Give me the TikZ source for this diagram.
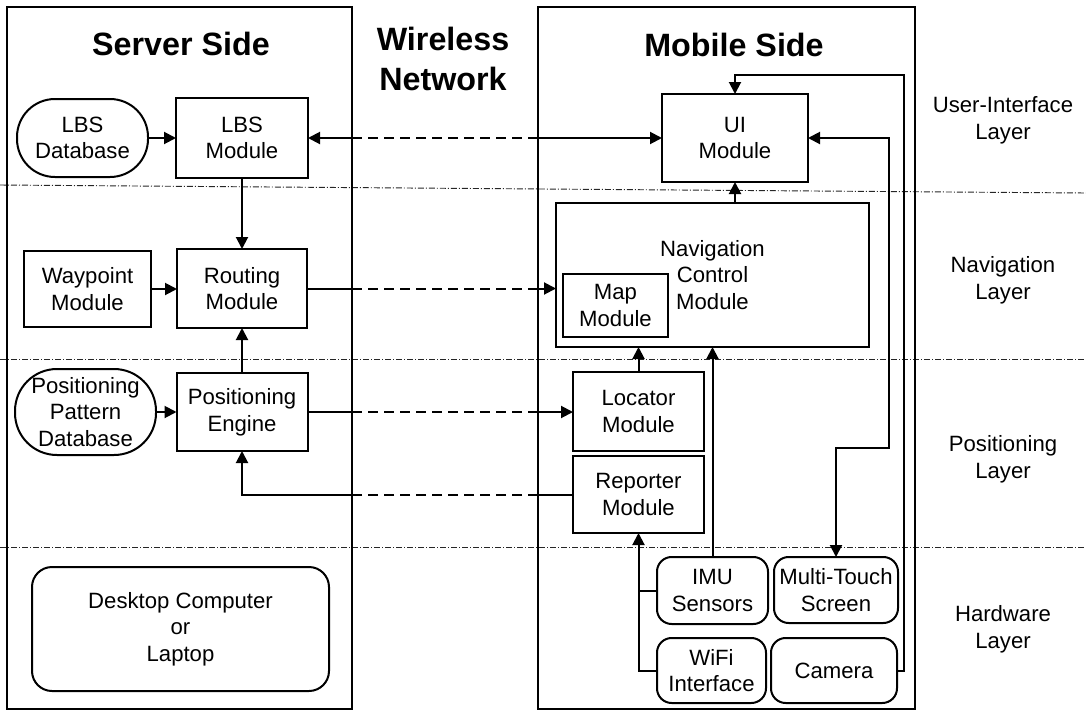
\documentclass[tikz,border=0pt]{standalone}
\usepackage{fontspec}
\setmainfont{Liberation Sans}
\usetikzlibrary{arrows.meta}
\newcommand\bodyfont{\fontsize{16.6}{20}\selectfont}
\newcommand\titlefont{\fontsize{24.2}{30}\selectfont\bfseries}
\begin{document}
\begin{tikzpicture}[x=0.75pt,y=-0.75pt,
  panel/.style={draw, line width=1.1pt, inner sep=0pt, outer sep=0pt},
  box/.style={draw, line width=1.5pt, inner sep=0pt, outer sep=0pt, align=center, font=\bodyfont},
  sz/.style 2 args={minimum width=#1, minimum height=#2},
  rbox/.style={box, rounded corners=11pt},
  title/.style={inner sep=0pt, align=center, font=\titlefont},
  lbl/.style={inner sep=0pt, align=center, font=\bodyfont},
  arr/.style={line width=1.5pt, -{Triangle[length=9pt,width=9pt]}},
  arrb/.style={line width=1.5pt, {Triangle[length=9pt,width=9pt]}-{Triangle[length=9pt,width=9pt]}},
  ln/.style={line width=1.5pt},
  wl/.style={line width=1.5pt, dash pattern=on 7.5pt off 4.5pt},
  layer/.style={line width=0.7pt, black!85, dash pattern=on 4.5pt off 1.5pt on 0.75pt off 1.5pt}
]
\useasboundingbox (0,0) rectangle (1086,711);

% layer separators
\draw[layer] (0,185) -- (1086,193);
\draw[layer] (0,359) -- (1086,359);
\draw[layer] (0,547) -- (1086,547);

% panels
\node[panel, sz={258.75pt}{526.5pt}] (srv) at (179.5,358) {};
\node[panel, sz={282.75pt}{526.5pt}] (mob) at (726.5,358) {};

% titles
\node[title] (tsrv) at (181,44) {Server Side};
\node[title] (twl) at (443,58.5) {Wireless\\Network};
\node[title] (tmob) at (734,45) {Mobile Side};

% layer labels
\node[lbl] (l1) at (1003,120) {User-Interface\\Layer};
\node[lbl] (l2) at (1003,280) {Navigation\\Layer};
\node[lbl] (l3) at (1003,459) {Positioning\\Layer};
\node[lbl] (l4) at (1003,629) {Hardware\\Layer};

% server side
\node[box, rounded corners=28.5pt, sz={98.25pt}{58.5pt}] (lbsdb) at (82.5,138) {LBS\\Database};
\node[box, sz={99pt}{60pt}] (lbs) at (242,138) {LBS\\Module};
\node[box, sz={95.25pt}{57pt}] (way) at (87.5,289) {Waypoint\\Module};
\node[box, sz={97.5pt}{59.25pt}] (rout) at (242,288.5) {Routing\\Module};
\node[box, rounded corners=31.5pt, sz={105.75pt}{64.5pt}] (ppdb) at (85.5,412) {Positioning\\Pattern\\Database};
\node[box, sz={98.25pt}{58.5pt}] (eng) at (242,412) {Positioning\\Engine};
\node[box, rounded corners=15pt, sz={222.75pt}{93pt}] (desk) at (180.5,629) {Desktop Computer\\or\\Laptop};

% mobile side
\node[box, sz={109.5pt}{66pt}] (ui) at (735,138) {UI\\Module};
\node[box, sz={234.75pt}{108pt}] (nav) at (712.5,275) {Navigation\\Control\\Module};
\node[box, sz={78.75pt}{47.25pt}] (map) at (615.5,305.5) {Map\\Module};
\node[box, sz={98.25pt}{59.25pt}] (loc) at (638.5,411.5) {Locator\\Module};
\node[box, sz={98.25pt}{57.75pt}] (rep) at (638.5,494.5) {Reporter\\Module};
\node[rbox, sz={83.25pt}{50.25pt}] (imu) at (712.5,590.5) {IMU\\Sensors};
\node[rbox, sz={93pt}{49.5pt}] (mt) at (836,590) {Multi-Touch\\Screen};
\node[rbox, sz={81.75pt}{48.75pt}] (wifi) at (711.5,670.5) {WiFi\\Interface};
\node[rbox, sz={94.5pt}{48.75pt}] (cam) at (834,670.5) {Camera};

\coordinate (cup) at (904,75);
\coordinate (tch) at (889,448);

% server-side connectors
\draw[arr] (lbsdb.east) -- (lbs.west);
\draw[arr] (lbs.south) -- (rout.north);
\draw[arr] (way.east) -- (way.east -| rout.west);
\draw[arr] (eng.north) -- (rout.south);
\draw[arr] (ppdb.east) -- (ppdb.east -| eng.west);

% wireless connectors
\draw[arr] (lbs.east -| srv.east) -- (lbs.east);
\draw[wl] (lbs.east -| srv.east) -- (lbs.east -| mob.west);
\draw[arr] (lbs.east -| mob.west) -- (ui.west);

\draw[ln] (rout.east) -- (rout.east -| srv.east);
\draw[wl] (rout.east -| srv.east) -- (rout.east -| mob.west);
\draw[arr] (rout.east -| mob.west) -- (rout.east -| nav.west);

\draw[ln] (eng.east) -- (eng.east -| srv.east);
\draw[wl] (eng.east -| srv.east) -- (eng.east -| mob.west);
\draw[arr] (eng.east -| mob.west) -- (eng.east -| loc.west);

\draw[ln] (rep.west) -- (rep.west -| mob.west);
\draw[wl] (rep.west -| mob.west) -- (rep.west -| srv.east);
\draw[arr] (rep.west -| srv.east) -| (eng.south);

% mobile-side connectors
\draw[arr] (ui.south |- nav.north) -- (ui.south);
\draw[arr] (loc.north) -- (loc.north |- nav.south);
\draw[arr] (imu.north) -- (imu.north |- nav.south);
\draw[arr] (wifi.west) -| (rep.south);
\draw[ln] (imu.west) -- (imu.west -| rep.south);
\draw[arr] (cam.east) -| (cup) -| (ui.north);
\draw[arrb] (ui.east) -| (tch) -| (mt.north);
\end{tikzpicture}
\end{document}
